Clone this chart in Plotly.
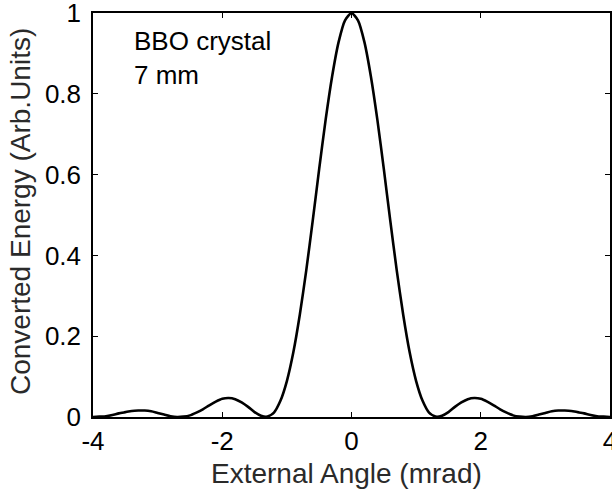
import plotly.graph_objects as go

angle_mrad = [round(-4 + 0.1 * i, 1) for i in range(81)]
energy_right = [1.000, 0.982, 0.928, 0.843, 0.736, 0.614, 0.486, 0.363, 0.253, 0.160,
                0.089, 0.040, 0.011, 0.001, 0.003, 0.012, 0.025, 0.036, 0.044, 0.047,
                0.045, 0.038, 0.029, 0.019, 0.011, 0.004, 0.001, 0.000, 0.002, 0.006,
                0.010, 0.014, 0.016, 0.016, 0.015, 0.012, 0.009, 0.005, 0.002, 0.001,
                0.000]
energy = energy_right[:0:-1] + energy_right

x_tick_vals = [-4, -2, 0, 2, 4]
x_tick_text = ["-4", "-2", "0", "2", "4"]
y_tick_vals = [0, 0.2, 0.4, 0.6, 0.8, 1]
y_tick_text = ["0", "0.2", "0.4", "0.6", "0.8", "1"]

FONT = "Liberation Sans, Arial, sans-serif"

fig = go.Figure()
fig.add_trace(go.Scatter(x=angle_mrad, y=energy, mode="lines",
                         line=dict(color="black", width=2.6, shape="spline", smoothing=0.6),
                         showlegend=False))

axis_common = dict(showline=True, linecolor="black", linewidth=1.5, mirror="allticks",
                   ticks="inside", ticklen=5, tickwidth=1, tickcolor="black",
                   showgrid=False, zeroline=False, ticklabeloverflow="allow",
                   automargin=False,
                   tickfont=dict(family=FONT, size=26, color="black"))

fig.update_xaxes(range=[-4, 4], tickmode="array", tickvals=x_tick_vals, ticktext=x_tick_text,
                 **axis_common)
fig.update_yaxes(range=[0, 1], tickmode="array", tickvals=y_tick_vals, ticktext=y_tick_text,
                 ticklabelstandoff=5, **axis_common)

fig.add_annotation(x=0, xref="paper", y=0.5, yref="paper", text="Converted Energy (Arb.Units)",
                   textangle=-90, showarrow=False, xanchor="center", yanchor="middle", xshift=-73,
                   yshift=3, font=dict(family=FONT, size=28, color="#2a2a2a"))
fig.add_annotation(x=0.5, xref="paper", y=0, yref="paper", text="External Angle (mrad)",
                   showarrow=False, xanchor="center", yanchor="middle", yshift=-56, xshift=-5,
                   font=dict(family=FONT, size=28, color="#2a2a2a"))
fig.add_annotation(x=-3.4, xref="x", y=1, yref="paper", text="BBO crystal<br>7 mm",
                   showarrow=False, xanchor="left", yanchor="top", yshift=-11, align="left",
                   font=dict(family=FONT, size=26, color="black"))

fig.update_layout(width=612, height=495, margin=dict(l=93, r=2, t=13, b=78),
                  paper_bgcolor="white", plot_bgcolor="white",
                  font=dict(family=FONT, color="black"))

fig.write_html("out.html")
